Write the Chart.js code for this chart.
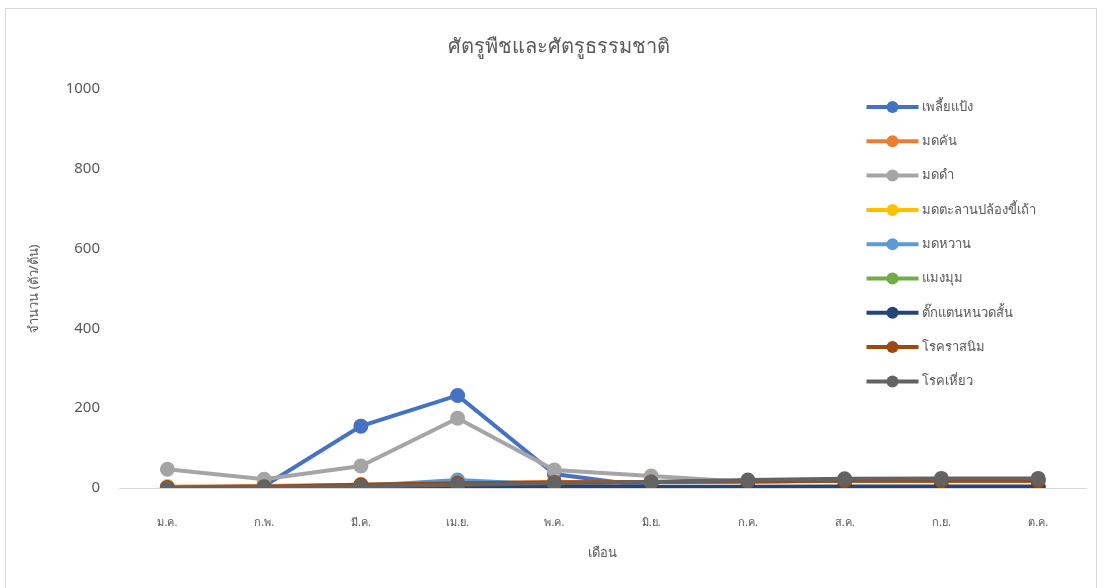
<!DOCTYPE html>
<html>
<head>
<meta charset="utf-8">
<script src="https://cdn.jsdelivr.net/npm/chart.js"></script>
<style>
  body { margin: 0; background: #fff; }
  #wrap { position: absolute; left: 5px; top: 8px; width: 1090px; height: 592px; border: 1px solid #d9d9d9; }
</style>
</head>
<body>
<div id="wrap"><canvas id="pestChart" width="1090" height="592"></canvas></div>
<script>
const months = ['ม.ค.', 'ก.พ.', 'มี.ค.', 'เม.ย.', 'พ.ค.', 'มิ.ย.', 'ก.ค.', 'ส.ค.', 'ก.ย.', 'ต.ค.'];
const seriesNames = ['เพลี้ยแป้ง', 'มดคัน', 'มดดำ', 'มดตะลานปล้องขี้เถ้า', 'มดหวาน', 'แมงมุม', 'ตั๊กแตนหนวดสั้น', 'โรคราสนิม', 'โรคเหี่ยว'];
const seriesColors = ['#4472c4', '#ed7d31', '#a5a5a5', '#ffc000', '#5b9bd5', '#70ad47', '#264478', '#9e480e', '#636363'];

const mealybug   = [0, 5, 155, 232, 35, 3, 2, 2, 2, 2];
const fireAnt    = [3, 5, 8, 12, 15, 15, 15, 18, 18, 18];
const blackAnt   = [47, 22, 55, 175, 45, 30, 15, 20, 22, 22];
const ashAnt     = [3, 1, 1, 1, 1, 1, 1, 1, 1, 1];
const sweetAnt   = [0, 2, 5, 20, 8, 2, 2, 2, 2, 2];
const spider     = [0, 1, 1, 2, 2, 2, 2, 2, 2, 2];
const grasshop   = [0, 1, 2, 3, 3, 3, 3, 4, 4, 4];
const rust       = [1, 3, 8, 12, 14, 15, 17, 18, 18, 18];
const wilt       = [0, 2, 4, 8, 12, 15, 20, 23, 24, 24];
const allSeries = [mealybug, fireAnt, blackAnt, ashAnt, sweetAnt, spider, grasshop, rust, wilt];

const yTicks = [0, 200, 400, 600, 800, 1000];

const FONT = "'Noto Sans', 'DejaVu Sans', sans-serif";
const TEXT = '#595959';

// legend drawn over the plot like Excel does
const lineLegend = {
  id: 'lineLegend',
  afterDraw(chart) {
    const ctx = chart.ctx;
    const x0 = chart.chartArea.right - 220;
    let y = chart.chartArea.top + 18;
    ctx.save();
    ctx.font = '13px ' + FONT;
    ctx.textBaseline = 'middle';
    chart.data.datasets.forEach(ds => {
      ctx.strokeStyle = ds.borderColor;
      ctx.lineWidth = 4;
      ctx.beginPath();
      ctx.moveTo(x0, y);
      ctx.lineTo(x0 + 52, y);
      ctx.stroke();
      ctx.fillStyle = ds.borderColor;
      ctx.beginPath();
      ctx.arc(x0 + 26, y, 6, 0, Math.PI * 2);
      ctx.fill();
      ctx.fillStyle = TEXT;
      ctx.fillText(ds.label, x0 + 55, y);
      y += 34.3;
    });
    ctx.restore();
  }
};

new Chart(document.getElementById('pestChart'), {
  type: 'line',
  data: {
    labels: months,
    datasets: seriesNames.map((name, i) => ({
      label: name,
      data: allSeries[i],
      borderColor: seriesColors[i],
      backgroundColor: seriesColors[i],
      borderWidth: 4,
      pointRadius: 5.5,
      pointHoverRadius: 5.5,
      tension: 0,
      order: seriesNames.length - i
    }))
  },
  options: {
    responsive: false,
    animation: false,
    layout: { padding: { left: 20, right: 4, top: 0, bottom: 40 } },
    plugins: {
      legend: { display: false },
      tooltip: { enabled: false },
      title: {
        display: true,
        text: 'ศัตรูพืชและศัตรูธรรมชาติ',
        color: TEXT,
        font: { family: FONT, size: 20, weight: 'normal' },
        padding: { top: 26, bottom: 30 }
      }
    },
    scales: {
      x: {
        offset: true,
        afterFit: s => { s.height = 73; },
        grid: { display: false },
        border: { display: false },
        ticks: { color: TEXT, font: { family: FONT, size: 11 }, padding: 20 },
        title: { display: true, text: 'เดือน', color: TEXT, font: { family: FONT, size: 13 }, padding: { top: 0, bottom: 0 } }
      },
      y: {
        min: 0,
        max: 1000,
        afterBuildTicks: s => { s.ticks = yTicks.map(v => ({ value: v })); },
        afterFit: s => { s.width = 93; },
        grid: {
          drawTicks: false,
          color: c => c.tick && c.tick.value === 0 ? '#d9d9d9' : 'rgba(0,0,0,0)'
        },
        border: { display: false },
        ticks: { color: TEXT, font: { family: FONT, size: 15 }, padding: 19, callback: v => String(v) },
        title: { display: true, text: 'จำนวน (ตัว/ต้น)', color: TEXT, font: { family: FONT, size: 13 }, padding: { top: 0, bottom: 0 } }
      }
    }
  },
  plugins: [lineLegend]
});
</script>
</body>
</html>
